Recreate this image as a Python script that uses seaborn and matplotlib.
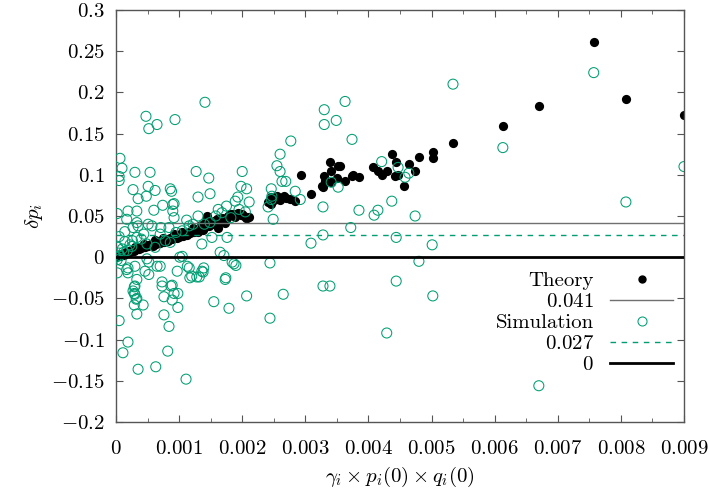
import numpy as np
import seaborn as sns
import matplotlib
matplotlib.use("Agg")
import matplotlib.pyplot as plt
import matplotlib.ticker as mticker
from matplotlib.lines import Line2D

# x values are given in units of 1e-3
theory_x = [
    0.00, 0.02, 0.04, 0.06, 0.08, 0.10, 0.12, 0.14, 0.16, 0.18, 0.20, 0.22,
    0.25, 0.28, 0.30, 0.33, 0.36, 0.38, 0.40, 0.43, 0.46, 0.48, 0.50, 0.53,
    0.56, 0.58, 0.60, 0.63, 0.66, 0.68, 0.70, 0.73, 0.76, 0.78, 0.80, 0.83,
    0.86, 0.88, 0.90, 0.93, 0.96, 0.98, 1.00, 1.03, 1.06, 1.08, 1.10, 1.13,
    1.16, 1.18, 1.20, 1.23, 1.26, 1.28, 1.30, 1.33, 1.36, 1.38, 1.40, 1.42,
    1.44, 1.46, 1.48, 1.50, 1.52, 1.55, 1.58, 1.60, 1.62, 1.65, 1.68, 1.70,
    1.73, 1.76, 1.78, 1.80, 1.83, 1.86, 1.88, 1.90, 1.93, 1.96, 1.98, 2.00,
    2.03, 2.06, 2.08, 2.10,
    0.30, 0.45, 0.62, 0.75, 0.92, 1.05, 1.22, 1.35,
    2.41, 2.46, 2.55, 2.66, 2.76, 2.84, 2.60, 2.50, 2.45, 2.70,
    2.93, 3.09, 3.39, 3.52, 3.41, 3.30, 3.31, 3.26, 3.28, 3.41, 3.50, 3.63,
    3.74, 3.76, 3.85, 4.07, 4.15, 4.21, 4.29, 3.55,
    4.37, 4.44, 4.42, 4.47, 4.56, 4.64, 4.74, 4.80, 5.02, 5.02, 5.34,
    6.13, 6.70, 7.57, 8.08, 9.00,
]
theory_y = [
    0.000, 0.001, 0.002, 0.001, 0.003, 0.004, 0.003, 0.005, 0.006, 0.005, 0.007, 0.006,
    0.008, 0.008, 0.009, 0.010, 0.010, 0.012, 0.011, 0.013, 0.012, 0.014, 0.013, 0.015,
    0.016, 0.014, 0.017, 0.016, 0.018, 0.019, 0.017, 0.020, 0.019, 0.021, 0.022, 0.020,
    0.023, 0.022, 0.024, 0.025, 0.023, 0.026, 0.025, 0.027, 0.026, 0.028, 0.029, 0.027,
    0.030, 0.029, 0.031, 0.030, 0.032, 0.033, 0.031, 0.034, 0.035, 0.033, 0.036, 0.045,
    0.050, 0.040, 0.038, 0.042, 0.040, 0.044, 0.043, 0.046, 0.036, 0.044, 0.047, 0.045,
    0.042, 0.048, 0.050, 0.052, 0.051, 0.053, 0.049, 0.052, 0.054, 0.053, 0.051, 0.052,
    0.050, 0.048, 0.047, 0.049,
    0.012, 0.016, 0.021, 0.023, 0.028, 0.031, 0.035, 0.039,
    0.067, 0.073, 0.074, 0.074, 0.071, 0.068, 0.070, 0.070, 0.064, 0.072,
    0.100, 0.077, 0.115, 0.111, 0.105, 0.098, 0.092, 0.086, 0.085, 0.091, 0.096, 0.092,
    0.098, 0.100, 0.097, 0.110, 0.104, 0.100, 0.104, 0.111,
    0.125, 0.116, 0.098, 0.100, 0.086, 0.113, 0.105, 0.122, 0.128, 0.120, 0.138,
    0.159, 0.183, 0.261, 0.192, 0.172,
]

sim_x = [
    1.41, 0.475, 0.52, 0.65, 0.935, 0.063, 0.095, 0.05, 0.05, 0.30, 0.54, 1.27,
    1.47, 2.00, 0.27, 0.51, 0.62, 0.86, 0.88, 1.49, 1.98, 0.35, 0.48, 1.30, 1.93,
    0.90, 0.90, 0.92, 0.74, 0.60, 0.02, 0.17, 0.33, 0.51, 0.71, 0.57, 1.16, 1.89,
    1.68, 1.49, 1.52, 1.76, 1.36, 0.14, 0.05, 0.14, 0.33, 0.25, 0.49, 0.62, 0.86,
    1.05, 1.65, 1.84, 1.87, 0.02, 0.17, 0.19, 0.30, 0.49, 0.52, 0.65, 0.52, 0.46,
    0.73, 0.89, 0.97, 1.16, 1.20, 1.32, 1.36, 1.73, 0.30,
    0.19, 0.33, 0.92, 0.27, 0.35, 0.84,
    0.00, 0.02, 0.04, 0.06, 0.08, 0.10, 0.12, 0.03, 0.18, 0.22, 0.26, 0.40, 0.44,
    0.70, 0.78, 0.95, 1.05, 1.12, 1.22, 1.30, 1.40, 1.58, 1.62, 1.75, 1.82, 1.95,
    2.05,
    0.29, 0.29, 0.32, 0.29, 0.43, 0.33, 0.73, 0.87, 0.76, 0.89, 0.92, 0.98, 0.98,
    1.55, 1.79, 0.05, 0.76, 0.84, 0.19, 0.11, 0.82, 0.35, 0.63, 1.11, 1.71, 1.74,
    1.28, 1.39, 1.38, 1.13, 1.17, 1.01, 0.70, 0.19, 0.27, 0.30, 0.33, 0.33,
    3.63, 3.30, 3.49, 3.30, 3.74, 2.77, 2.60, 2.55, 2.60, 2.63, 2.69, 2.07, 2.11,
    2.46, 2.84, 2.92, 2.47, 2.41, 3.28, 3.41, 3.52, 3.85, 4.09, 4.15, 4.21, 7.57,
    5.34, 6.13, 9.00, 4.47, 4.58, 4.64, 8.08, 4.37, 4.74, 3.72, 4.44, 5.01, 4.80,
    4.44, 5.02, 4.29, 6.70, 2.49, 3.28, 3.09, 2.44, 3.28, 3.39, 2.07, 2.65, 2.44,
    1.90, 2.46,
]
sim_y = [
    0.188, 0.171, 0.156, 0.161, 0.167, 0.120, 0.108, 0.098, 0.093, 0.103, 0.103, 0.104,
    0.096, 0.104, 0.082, 0.086, 0.081, 0.083, 0.080, 0.077, 0.086, 0.071, 0.074, 0.073, 0.073,
    0.064, 0.056, 0.048, 0.063, 0.057, 0.053, 0.046, 0.042, 0.040, 0.036, 0.038, 0.038, 0.068,
    0.054, 0.042, 0.024, 0.024, 0.016, 0.031, 0.025, 0.019, 0.024, 0.013, 0.016, 0.012, 0.018,
    0.001, 0.006, -0.006, -0.008, -0.019, -0.015, -0.019, -0.011, -0.002, -0.006, -0.011, -0.021, -0.017,
    -0.030, -0.034, -0.017, -0.013, -0.023, -0.024, -0.017, -0.027, -0.035,
    0.056, 0.056, 0.065, 0.036, 0.038, 0.036,
    0.000, -0.003, 0.005, 0.002, -0.004, 0.010, 0.006, 0.012, 0.008, 0.015, 0.020, 0.022, 0.028,
    0.028, 0.020, 0.030, 0.032, 0.045, 0.040, 0.050, 0.040, 0.050, 0.058, 0.062, 0.048, 0.058,
    0.055,
    -0.036, -0.044, -0.051, -0.058, -0.058, -0.069, -0.035, -0.035, -0.048, -0.052, -0.044, -0.044, -0.061,
    -0.054, -0.062, -0.077, -0.070, -0.084, -0.103, -0.116, -0.114, -0.136, -0.133, -0.148, 0.002, -0.025,
    -0.024, -0.013, -0.018, -0.011, -0.025, 0.000, -0.011, -0.013, -0.041, -0.045, -0.050, -0.027,
    0.189, 0.179, 0.166, 0.161, 0.143, 0.141, 0.125, 0.111, 0.104, 0.092, 0.092, 0.083, 0.067,
    0.083, 0.080, 0.070, 0.074, 0.061, 0.061, 0.091, 0.085, 0.057, 0.051, 0.057, 0.116, 0.224,
    0.210, 0.133, 0.110, 0.109, 0.097, 0.102, 0.067, 0.068, 0.050, 0.036, 0.024, 0.015, -0.005,
    -0.029, -0.047, -0.092, -0.156, 0.046, 0.027, 0.017, -0.007, -0.035, -0.035, -0.047, -0.045, -0.074,
    -0.010, 0.070,
]

theory_mean = 0.041
sim_mean = 0.027

green = "#009e73"

plt.rcParams["font.family"] = "serif"
plt.rcParams["font.serif"] = ["cmr10"]
plt.rcParams["mathtext.fontset"] = "cm"
plt.rcParams["axes.unicode_minus"] = False
plt.rcParams["axes.formatter.use_mathtext"] = True

fig = plt.figure(figsize=(7.09, 4.90), dpi=100)
ax = fig.add_axes([0.1636, 0.1388, 0.8011, 0.8408])

tx = np.array(theory_x) * 1e-3
sx = np.array(sim_x) * 1e-3

sns.scatterplot(x=tx, y=theory_y, ax=ax, color="black", s=44,
                linewidth=0, zorder=2)
ax.axhline(theory_mean, color="#707070", linewidth=1.0, zorder=2)
sns.scatterplot(x=sx, y=sim_y, ax=ax, s=52, marker="o",
                facecolors="none", edgecolor=green, linewidth=0.75, zorder=3)
ax.axhline(sim_mean, color=green, linewidth=1.0, linestyle=(0, (4, 4)), zorder=3)
ax.axhline(0, color="black", linewidth=2.0, zorder=4)

ax.set_xlim(0, 0.009)
ax.set_ylim(-0.2, 0.3)
ax.xaxis.set_major_locator(mticker.MultipleLocator(0.001))
ax.xaxis.set_minor_locator(mticker.MultipleLocator(0.0005))
ax.yaxis.set_major_locator(mticker.MultipleLocator(0.05))
fmt = mticker.FuncFormatter(lambda v, p: "$%s$" % ("%g" % round(v, 6)))
ax.xaxis.set_major_formatter(fmt)
ax.yaxis.set_major_formatter(fmt)
ax.tick_params(which="both", direction="in", top=True, right=True,
               labelsize=15, color="#555555")
ax.tick_params(axis="x", pad=13)
ax.tick_params(axis="y", pad=8)
ax.tick_params(which="major", length=5)
ax.tick_params(which="minor", length=3)
for sp in ax.spines.values():
    sp.set_color("#555555")
    sp.set_linewidth(1.0)

ax.set_xlabel(r"$\gamma_i \times p_i(0) \times q_i(0)$", fontsize=15, labelpad=5)
ax.set_ylabel(r"$\delta p_i$", fontsize=15, labelpad=4)

handles = [
    Line2D([], [], color="black", marker="o", linestyle="none", markersize=5),
    Line2D([], [], color="#707070", linewidth=1.0),
    Line2D([], [], color=green, marker="o", markerfacecolor="none",
           linestyle="none", markersize=6.5, markeredgewidth=0.75),
    Line2D([], [], color=green, linewidth=1.0, linestyle=(0, (4, 4))),
    Line2D([], [], color="black", linewidth=2.0),
]
labels = ["Theory", "$0.041$", "Simulation", "$0.027$", "$0$"]
ax.legend(handles, labels, loc="lower right", bbox_to_anchor=(0.999, 0.09),
          frameon=False, markerfirst=False, fontsize=15, handlelength=3.0,
          labelspacing=0.12, handletextpad=0.8, borderpad=0)

fig.savefig("out.png", dpi=100)
